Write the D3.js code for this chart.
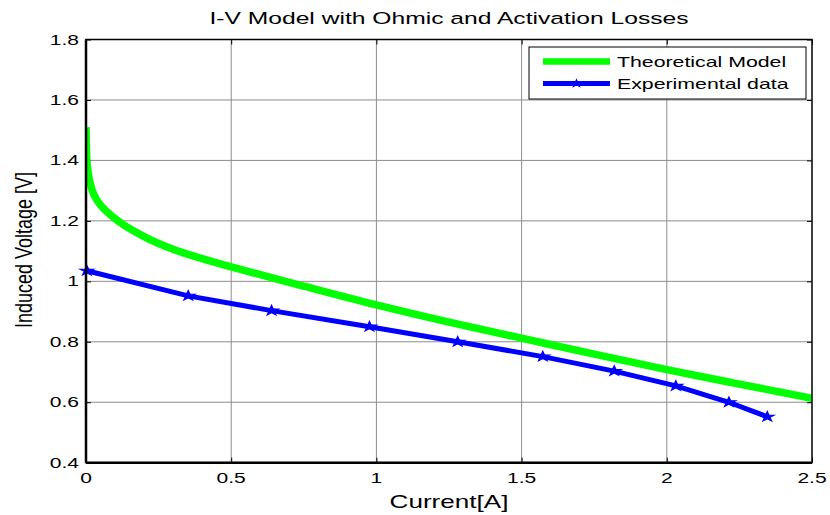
<!DOCTYPE html>
<html><head><meta charset="utf-8">
<script src="https://cdn.jsdelivr.net/npm/d3@7"></script>
<style>body{margin:0;background:#fff}svg{display:block}text{font-family:"Liberation Sans",Arial,sans-serif;fill:#000}</style>
</head><body><svg id="c" width="830" height="515"></svg>
<script>
const title = "I-V Model with Ohmic and Activation Losses";
const xLabel = "Current[A]";
const yLabel = "Induced Voltage [V]";
const xTicks = [0, 0.5, 1, 1.5, 2, 2.5];
const yTicks = [0.4, 0.6, 0.8, 1, 1.2, 1.4, 1.6, 1.8];
const yTickLabels = ["0.4","0.6","0.8","1","1.2","1.4","1.6","1.8"];
const xTickLabels = ["0","0.5","1","1.5","2","2.5"];
const seriesNames = ["Theoretical Model", "Experimental data"];
const theoI = [0, 0.001, 0.003, 0.006, 0.01, 0.02, 0.04, 0.07, 0.113, 0.2, 0.3, 0.4, 0.5, 0.6, 0.75, 1.0, 1.25, 1.5, 1.75, 2.0, 2.25, 2.5];
const theoV = [1.51, 1.45, 1.40, 1.37, 1.345, 1.305, 1.265, 1.232, 1.198, 1.148, 1.106, 1.075, 1.048, 1.022, 0.984, 0.922, 0.865, 0.812, 0.759, 0.708, 0.66, 0.613];
const expI = [0.003, 0.352, 0.639, 0.976, 1.28, 1.573, 1.819, 2.031, 2.214, 2.346];
const expV = [1.035, 0.952, 0.903, 0.85, 0.80, 0.751, 0.703, 0.654, 0.60, 0.552];

const SX = 1.45; // horizontal stretch of the reference glyphs
const svg = d3.select("#c");
const L = 86, R = 812, T = 39.5, B = 462.7;
const x = d3.scaleLinear().domain([0, 2.5]).range([L, R]);
const y = d3.scaleLinear().domain([0.4, 1.8]).range([B, T]);

function stext(px, py, str, size, anchor, sx){
  return svg.append("text").attr("transform", `translate(${px},${py}) scale(${sx||SX},1)`)
    .attr("text-anchor", anchor).attr("font-size", size + "px").text(str);
}

// grid
svg.selectAll(".gx").data(xTicks.slice(1, -1)).enter().append("line")
  .attr("x1", d => x(d)).attr("x2", d => x(d)).attr("y1", T).attr("y2", B)
  .attr("stroke", "#8c8c8c").attr("stroke-width", 1);
svg.selectAll(".gy").data(yTicks.slice(1, -1)).enter().append("line")
  .attr("y1", d => y(d)).attr("y2", d => y(d)).attr("x1", L).attr("x2", R)
  .attr("stroke", "#8c8c8c").attr("stroke-width", 1);

// inward ticks on all sides
const xAxB = d3.axisBottom(x).tickValues(xTicks).tickSize(-5).tickFormat("");
const xAxT = d3.axisTop(x).tickValues(xTicks).tickSize(-5).tickFormat("");
const yAxL = d3.axisLeft(y).tickValues(yTicks).tickSize(-5).tickFormat("");
const yAxR = d3.axisRight(y).tickValues(yTicks).tickSize(-5).tickFormat("");
function styleAx(sel){
  sel.select(".domain").remove();
  sel.selectAll(".tick line").attr("stroke","#000").attr("stroke-width",1);
}
svg.append("g").attr("transform",`translate(0,${B})`).call(xAxB).call(styleAx);
svg.append("g").attr("transform",`translate(0,${T})`).call(xAxT).call(styleAx);
svg.append("g").attr("transform",`translate(${L},0)`).call(yAxL).call(styleAx);
svg.append("g").attr("transform",`translate(${R},0)`).call(yAxR).call(styleAx);

// tick labels
xTicks.forEach((v,i)=> stext(x(v), B + 20.5, xTickLabels[i], 14.5, "middle"));
yTicks.forEach((v,i)=> stext(L - 7, y(v) + 5, yTickLabels[i], 14.5, "end"));

// data
svg.append("clipPath").attr("id","clp").append("rect").attr("x",L).attr("y",T).attr("width",R-L).attr("height",B-T);
const line = d3.line().x(d => x(d[0])).y(d => y(d[1])).curve(d3.curveMonotoneX);
const theo = theoI.map((v,i)=>[v, theoV[i]]);
const exp = expI.map((v,i)=>[v, expV[i]]);
svg.append("path").datum(theo).attr("d", line).attr("fill","none").attr("stroke","#00ff00").attr("stroke-width",7.5).attr("clip-path","url(#clp)");
const lineLin = d3.line().x(d => x(d[0])).y(d => y(d[1]));
svg.append("path").datum(exp).attr("d", lineLin).attr("fill","none").attr("stroke","#0000ff").attr("stroke-width",5);
const star = d3.symbol().type(d3.symbolStar).size(30);
svg.selectAll(".mk").data(exp).enter().append("path").attr("d", star)
  .attr("transform", d => `translate(${x(d[0])},${y(d[1])}) scale(1.4,1)`).attr("fill","#0000ff").attr("stroke","#0000ff").attr("stroke-width",1);

// frame
svg.append("rect").attr("x",L).attr("y",T).attr("width",R-L).attr("height",B-T).attr("fill","none").attr("stroke","#000").attr("stroke-width",1.5);
svg.append("line").attr("x1",L).attr("x2",L).attr("y1",T).attr("y2",B).attr("stroke","#000").attr("stroke-width",2.5);
svg.append("line").attr("x1",L).attr("x2",R).attr("y1",B).attr("y2",B).attr("stroke","#000").attr("stroke-width",2.5);

// title and labels
stext(449, 24, title, 17, "middle");
stext(449, 508, xLabel, 18, "middle");
svg.append("text").attr("transform","translate(32,250) rotate(-90) scale(1,1.3)").attr("text-anchor","middle").attr("font-size","18px").text(yLabel);

// legend
const lg = svg.append("g");
lg.append("rect").attr("x",529).attr("y",47).attr("width",277).attr("height",52).attr("fill","#fff").attr("stroke","#000").attr("stroke-width",1);
const colors = ["#00ff00","#0000ff"], widths = [6.5,5];
seriesNames.forEach((n,i)=>{
  const yy = 61.5 + i*22;
  lg.append("line").attr("x1",543).attr("x2",610).attr("y1",yy).attr("y2",yy).attr("stroke",colors[i]).attr("stroke-width",widths[i]);
  if (i===1) lg.append("path").attr("d",star).attr("transform",`translate(576.5,${yy}) scale(1.4,1)`).attr("fill","#0000ff");
  stext(617, yy + 5.5, n, 15, "start", 1.42);
});
</script></body></html>
